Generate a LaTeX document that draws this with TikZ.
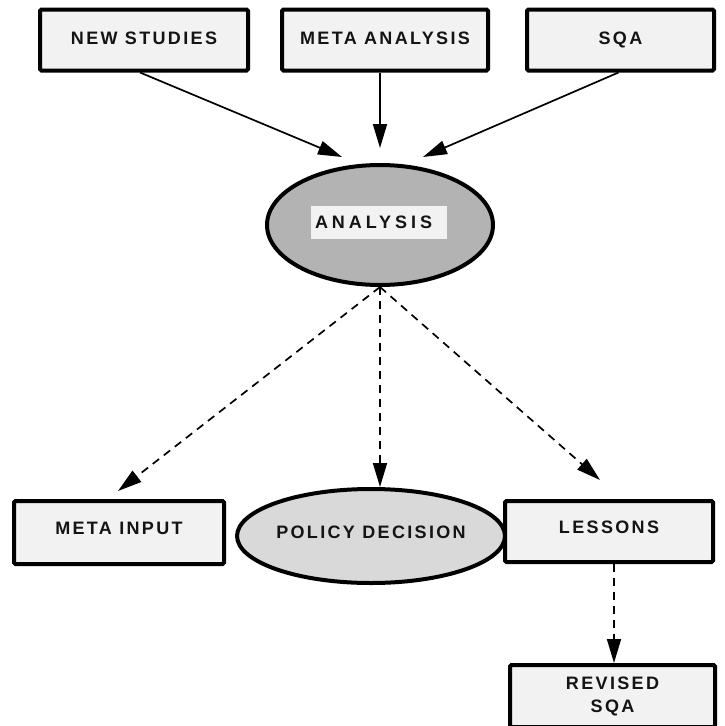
\documentclass[tikz,border=0pt]{standalone}
\usepackage{fontspec}
\setmainfont{Liberation Sans}
\newfontfamily\lblfont[LetterSpace=13]{Liberation Sans}
\newfontfamily\analblfont[LetterSpace=22]{Liberation Sans}
\usetikzlibrary{shapes.geometric,arrows.meta,positioning}

\definecolor{boxfill}{HTML}{F2F2F2}
\definecolor{anafill}{HTML}{B3B3B3}
\definecolor{polfill}{HTML}{D9D9D9}
\definecolor{lbltext}{HTML}{141414}

\tikzset{
  box/.style={draw, line width=4pt, rounded corners=1.5pt, fill=boxfill,
    inner sep=0pt, font=\lblfont\fontsize{18}{23}\selectfont\bfseries, text=lbltext, align=center},
  oval/.style={ellipse, draw, line width=4pt, inner sep=0pt,
    font=\lblfont\fontsize{18}{23}\selectfont\bfseries, text=lbltext},
  solidarrow/.style={-{Triangle[length=24pt,width=14pt]}, line width=1.7pt},
  dasharrow/.style={solidarrow, dash pattern=on 8pt off 6pt}
}

\begin{document}
\begin{tikzpicture}[x=1pt,y=-1pt]

  \useasboundingbox (0,0) rectangle (725,726);

  % sources
  \node[box, minimum width=208pt, minimum height=61pt, text depth=4pt] (newst) at (144,40) {NEW STUDIES};
  \node[box, minimum width=206pt, minimum height=61pt, text depth=4pt] (meta) at (385,40) {META ANALYSIS};
  \node[box, minimum width=187pt, minimum height=61pt, text depth=4pt] (sqa) at (620.5,40) {SQA};

  % analysis
  \node[oval, fill=anafill, minimum width=226pt, minimum height=120pt] (ana) at (380,225) {};
  \node[fill=boxfill, text width=128pt, inner xsep=4pt, inner ysep=0pt, minimum height=33pt,
    align=left, font=\analblfont\fontsize{18}{22}\selectfont\bfseries,
    text=lbltext] (analbl) at (379,222.5) {ANALYSIS};

  % outcomes
  \node[box, minimum width=210pt, minimum height=63pt, text depth=9pt] (metain) at (119,532.5) {META INPUT};
  \node[oval, fill=polfill, minimum width=238pt, minimum height=94pt, text depth=8pt] (policy) at (371,536) {POLICY DECISION};
  \node[box, minimum width=208pt, minimum height=61pt, text depth=8pt] (lessons) at (609,531.5) {LESSONS};
  \node[box, minimum width=205pt, minimum height=62pt] (revsqa) at (612.5,696) {REVISED\\SQA};

  \draw[solidarrow] ([xshift=-4pt]newst.south) -- ([xshift=-38pt,yshift=6pt]ana.north);
  \draw[solidarrow] ([xshift=-5pt]meta.south) -- ([yshift=15pt]ana.north);
  \draw[solidarrow] ([xshift=-2pt]sqa.south) -- ([xshift=43pt,yshift=6pt]ana.north);

  \draw[dasharrow] (ana.south) -- ([xshift=-1pt,yshift=8pt]metain.north);
  \draw[dasharrow] (ana.south) -- ([xshift=9pt]policy.north);
  \draw[dasharrow] (ana.south) -- ([xshift=-9pt,yshift=19pt]lessons.north);
  \draw[dasharrow] ([xshift=5pt]lessons.south) -- ([xshift=1.5pt]revsqa.north);

\end{tikzpicture}
\end{document}
